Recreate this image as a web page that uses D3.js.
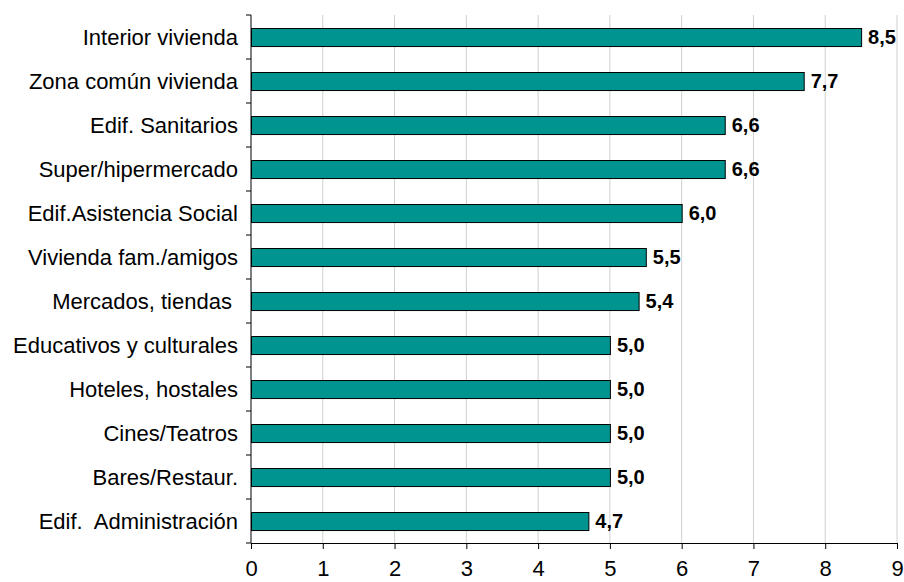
<!DOCTYPE html>
<html><head><meta charset="utf-8">
<script src="https://cdn.jsdelivr.net/npm/d3@7"></script>
<style>body{margin:0;background:#fff;}svg{display:block;font-family:"Liberation Sans",Arial,sans-serif;}</style>
</head><body>
<script>
const categories = ["Interior vivienda","Zona común vivienda","Edif. Sanitarios","Super/hipermercado","Edif.Asistencia Social","Vivienda fam./amigos","Mercados, tiendas ","Educativos y culturales","Hoteles, hostales","Cines/Teatros","Bares/Restaur.","Edif.  Administración"];
const values = [8.5,7.7,6.6,6.6,6.0,5.5,5.4,5.0,5.0,5.0,5.0,4.7];
const xTicks = [0,1,2,3,4,5,6,7,8,9];

const W = 904, H = 582;
const m = {left:251, right:7, top:15, bottom:39};
const svg = d3.select("body").append("svg").attr("width",W).attr("height",H);
const x = d3.scaleLinear().domain([0,9]).range([m.left, W-m.right]);
const y = d3.scaleBand().domain(categories).range([m.top, H-m.bottom]).paddingInner(0.59).paddingOuter(0.295);

// grid
svg.append("g").selectAll("line").data(xTicks.filter(d=>d>0)).join("line")
  .attr("x1",d=>x(d)).attr("x2",d=>x(d)).attr("y1",m.top).attr("y2",H-m.bottom)
  .attr("stroke","#d0d0d0").attr("stroke-width",1);

// bars
svg.append("g").selectAll("rect").data(values).join("rect")
  .attr("x",x(0)+0.5).attr("y",(d,i)=>Math.round(y(categories[i]))+0.5)
  .attr("width",d=>x(d)-x(0)).attr("height",y.bandwidth())
  .attr("fill","#009490").attr("stroke","#000").attr("stroke-width",1);

// value labels
svg.append("g").selectAll("text").data(values).join("text")
  .attr("x",d=>x(d)+7).attr("y",(d,i)=>y(categories[i])+y.bandwidth()/2)
  .attr("dy","0.36em").attr("font-size",20).attr("font-weight","bold")
  .text(d=>d.toFixed(1).replace(".",","));

// y axis
const yTickPos = d3.range(categories.length+1).map(i=>m.top + i*(H-m.bottom-m.top)/categories.length);
const ya = svg.append("g");
ya.append("line").attr("x1",x(0)).attr("x2",x(0)).attr("y1",m.top).attr("y2",H-m.bottom).attr("stroke","#000");
ya.selectAll("line.t").data(yTickPos).join("line").attr("class","t")
  .attr("x1",x(0)-5).attr("x2",x(0)).attr("y1",d=>d).attr("y2",d=>d).attr("stroke","#000");
ya.selectAll("text").data(categories).join("text")
  .attr("x",x(0)-13).attr("y",d=>y(d)+y.bandwidth()/2).attr("dy","0.36em")
  .attr("text-anchor","end").attr("font-size",22).style("white-space","pre").text(d=>d);

// x axis
const xa = svg.append("g").attr("transform",`translate(0,${H-m.bottom})`)
  .call(d3.axisBottom(x).tickValues(xTicks).tickSize(6).tickPadding(11).tickFormat(d3.format("d")));
xa.select(".domain").attr("stroke","#000");
xa.selectAll("text").attr("font-size",22).attr("font-family","Liberation Sans, Arial, sans-serif").attr("fill","#000");
</script>
</body></html>
